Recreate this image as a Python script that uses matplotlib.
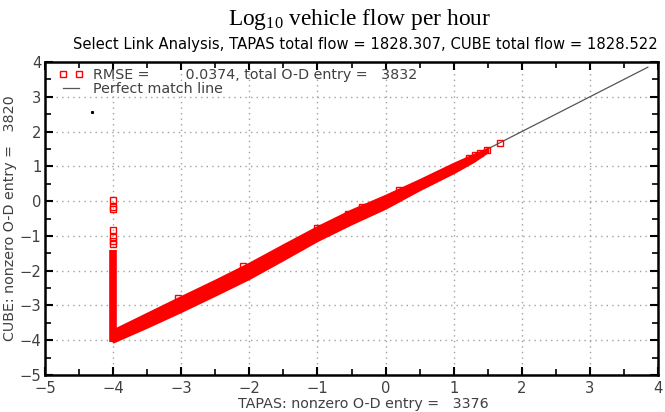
import numpy as np
import matplotlib.pyplot as plt
from matplotlib.ticker import MultipleLocator

plt.rcParams['mathtext.fontset'] = 'custom'
plt.rcParams['mathtext.rm'] = 'Liberation Serif'
plt.rcParams['mathtext.it'] = 'Liberation Serif:italic'

# band of dense points along the diagonal: x, lower edge, upper edge (log10 flow)
band_x = [-4.0, -3.5, -3.0, -2.5, -2.0, -1.5, -1.0, -0.5, 0.0, 0.5, 1.0, 1.3, 1.5]
band_lo = [-4.05, -3.62, -3.17, -2.70, -2.22, -1.68, -1.13, -0.65, -0.20, 0.33, 0.82, 1.15, 1.42]
band_hi = [-3.70, -3.22, -2.74, -2.27, -1.78, -1.25, -0.73, -0.25, 0.17, 0.62, 1.09, 1.35, 1.52]

# vertical column of points at TAPAS = -4
col_y = [-4.05, -1.42]
col_x = [-4.0, -4.0]

# isolated points
pts_x = [-4.0, -4.0, -4.0, -4.0, -4.0, -4.0, -4.0, 1.68, 1.49, 1.39, 1.31, 1.22,
         -0.35, -0.55, 0.2, -2.1, -1.0, -3.05]
pts_y = [0.03, -0.18, -0.23, -0.83, -1.04, -1.16, -1.24, 1.66, 1.47, 1.38, 1.33, 1.25,
         -0.18, -0.38, 0.32, -1.86, -0.76, -2.78]

# perfect match line end points
line_x = [-4.0, 3.85]
line_y = [-4.0, 3.85]

rmse = 0.0374
total_entry = 3832
tapas_nz = 3376
cube_nz = 3820
tapas_total = 1828.307
cube_total = 1828.522

fig = plt.figure(figsize=(6.65, 4.12), dpi=100)
ax = fig.add_axes([0.0677, 0.0898, 0.9218, 0.7597])

red = '#ff0000'
ax.plot(line_x, line_y, color='#555555', lw=0.9, zorder=2)
ax.fill_between(band_x, band_lo, band_hi, color=red, lw=1.5, edgecolor=red, zorder=3)
ax.plot(col_x, col_y, color=red, lw=5.5, solid_capstyle='butt', zorder=3)
ax.plot(pts_x, pts_y, ls='none', marker='s', ms=4.5, mfc='none', mec=red, mew=1.0, zorder=4)
ax.plot([-4.31], [2.55], ls='none', marker='s', ms=1.2, color='black', zorder=4)

# legend handles
h_pts, = ax.plot([], [], ls='none', marker='s', ms=3.8, mfc='none', mec=red, mew=1.0)
h_line, = ax.plot([], [], color='#555555', lw=0.9)
leg = ax.legend([h_pts, h_line],
                ['RMSE =        %.4f, total O-D entry =   %d' % (rmse, total_entry),
                 'Perfect match line'],
                loc='upper left', frameon=False, numpoints=2, fontsize=10.3,
                handlelength=1.7, handletextpad=0.7, labelspacing=0.02,
                borderaxespad=0.0, bbox_to_anchor=(0.013, 1.0))
for t in leg.get_texts():
    t.set_color('#404040')

ax.set_xlim(-5, 4)
ax.set_ylim(-5, 4)
ax.xaxis.set_major_locator(MultipleLocator(1))
ax.yaxis.set_major_locator(MultipleLocator(1))
ax.xaxis.set_minor_locator(MultipleLocator(0.5))
ax.yaxis.set_minor_locator(MultipleLocator(0.5))
ax.tick_params(which='both', direction='in', top=True, right=True, colors='black',
               labelcolor='#404040', labelsize=10.6)
ax.tick_params(which='major', length=6, width=1.5, pad=4)
ax.tick_params(axis='y', which='major', pad=2.5)
ax.tick_params(which='minor', length=4, width=1.2)
for s in ax.spines.values():
    s.set_linewidth(1.8)
ax.grid(True, which='major', color='#a0a0a0', ls=(0, (1, 3)), lw=1.0)
ax.set_axisbelow(True)

ax.set_xlabel('TAPAS: nonzero O-D entry =   %d' % tapas_nz, fontsize=10.3, color='#404040')
ax.set_ylabel('CUBE: nonzero O-D entry =   %d' % cube_nz, fontsize=10.3, color='#404040')
ax.xaxis.set_label_coords(0.52, -0.070)
ax.yaxis.set_label_coords(-0.046, 0.5)

fig.text(0.541, 0.953, 'Log$_{10}$ vehicle flow per hour', ha='center', va='center',
         fontsize=16.8, family='Liberation Serif')
fig.text(0.549, 0.893, 'Select Link Analysis, TAPAS total flow = %.3f, CUBE total flow = %.3f'
         % (tapas_total, cube_total), ha='center', va='center', fontsize=10.6)

fig.savefig('out.png', dpi=100)
